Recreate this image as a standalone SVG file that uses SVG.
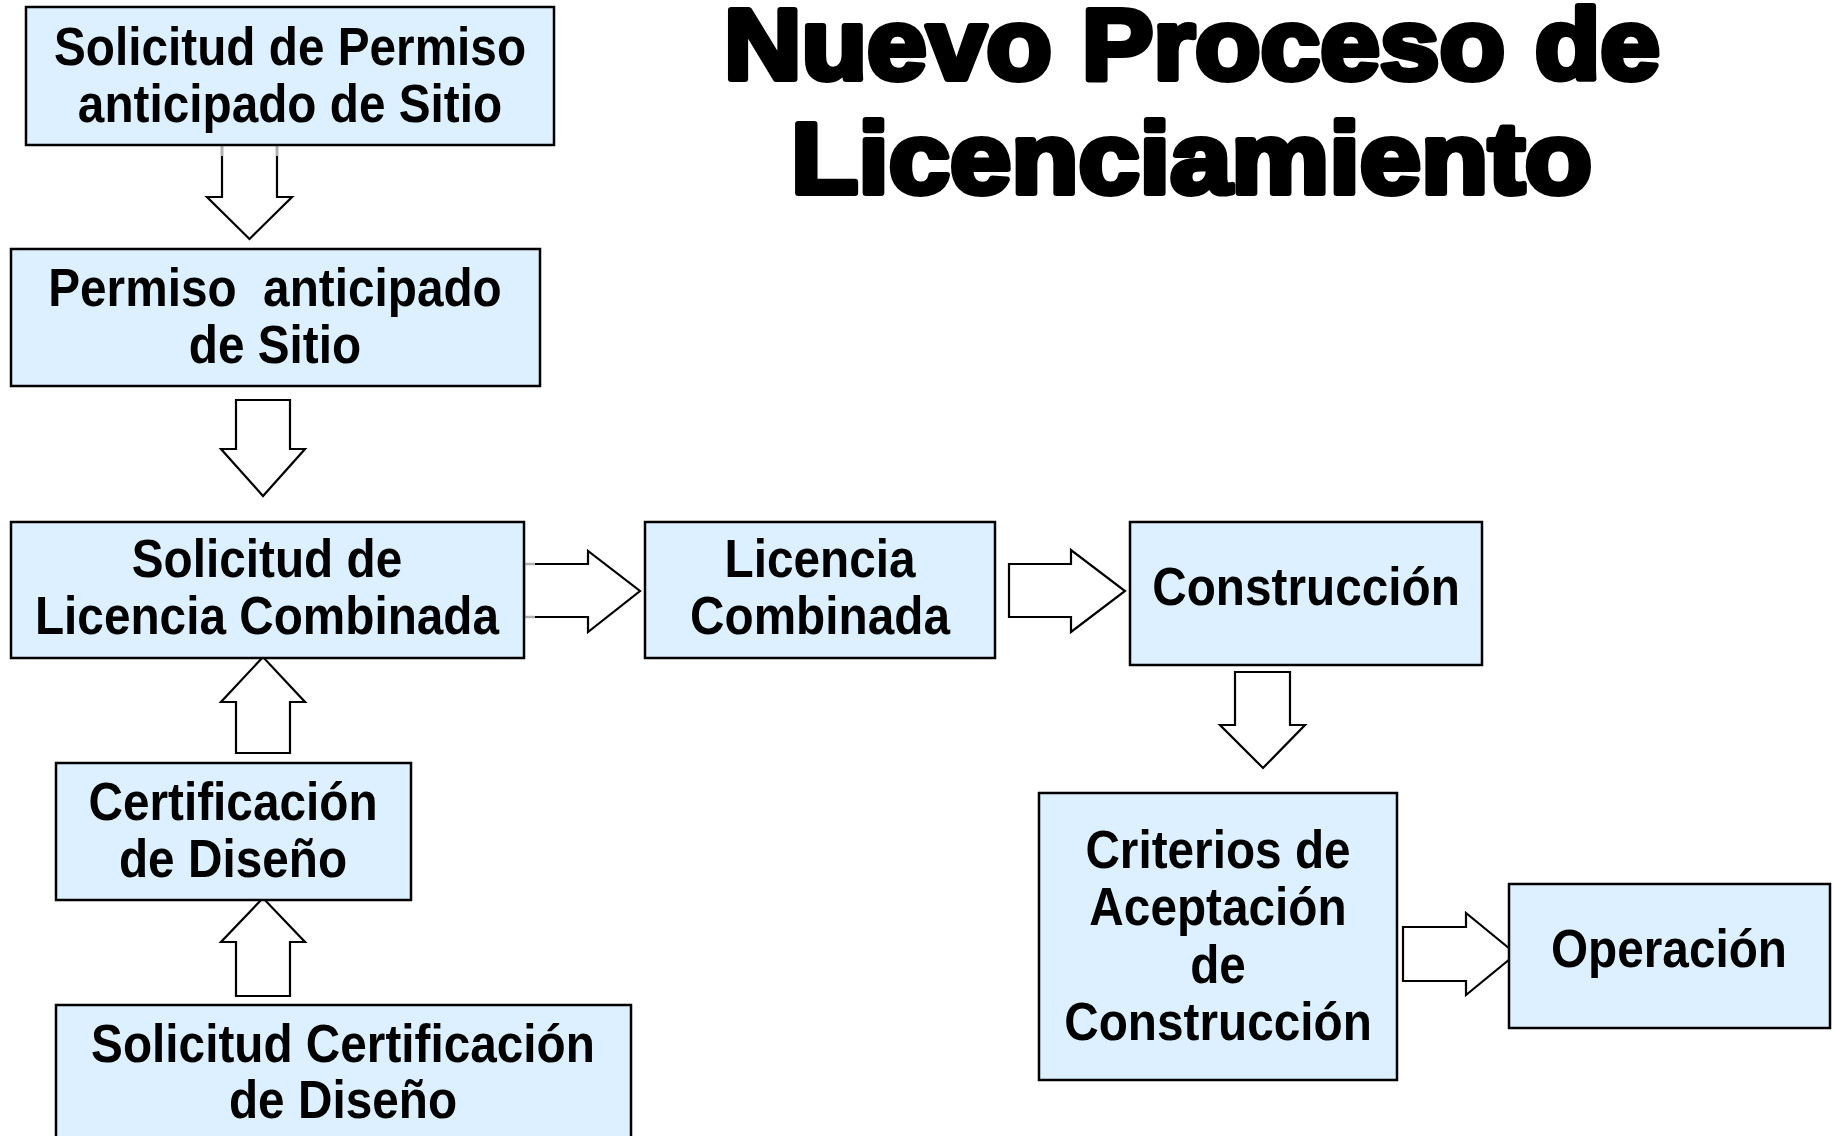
<svg xmlns="http://www.w3.org/2000/svg" width="1834" height="1136" viewBox="0 0 1834 1136">
<style>
.box{fill:#dcf0ff;stroke:#000;stroke-width:2.5}
.arr{fill:#fff;stroke:#000;stroke-width:2.2;stroke-linejoin:miter}
.gray{stroke:#b0b0b0;stroke-width:2.5;fill:none}
.t{font-family:"Liberation Sans",Arial,sans-serif;font-weight:bold;font-size:54px;text-anchor:middle;fill:#000}
.title{font-family:"Liberation Sans",Arial,sans-serif;font-weight:bold;font-size:100px;fill:#000;stroke:#000;stroke-width:6;stroke-linejoin:round}
</style>
<rect width="1834" height="1136" fill="#fff"/>
<g id="title">
<text class="title" x="724" y="79" textLength="936" lengthAdjust="spacingAndGlyphs">Nuevo Proceso de</text>
<text class="title" x="791" y="193" textLength="801" lengthAdjust="spacingAndGlyphs">Licenciamiento</text>
</g>
<g id="connectors">
<polygon class="arr" points="222,145 277,145 277,197 292,197 249.5,239 207,197 222,197"/>
<line class="gray" x1="222" y1="146" x2="222" y2="156"/><line class="gray" x1="277" y1="146" x2="277" y2="156"/>
<polygon class="arr" points="236,400 290,400 290,449 305,449 263,496 221,449 236,449"/>
<polygon class="arr" points="236,753 290,753 290,702 305,702 263,657 221,702 236,702"/>
<polygon class="arr" points="236,996 290,996 290,942 305,942 263,898 221,942 236,942"/>
<polygon class="arr" points="524,564 588,564 588,551 640,591 588,632 588,617 524,617"/>
<line class="gray" x1="525" y1="564" x2="535" y2="564"/><line class="gray" x1="525" y1="617" x2="535" y2="617"/>
<polygon class="arr" points="1009,564 1071,564 1071,550 1125,591 1071,632 1071,617 1009,617"/>
<polygon class="arr" points="1235,672 1290,672 1290,725 1305,725 1263,768 1220,725 1235,725"/>
<polygon class="arr" points="1403,927 1466,927 1466,913 1516,954 1466,995 1466,981 1403,981"/>
</g>
<g id="n1"><rect class="box" x="26" y="7" width="528" height="138"/>
<text class="t" transform="translate(290 0) scale(0.884 1)"><tspan x="0" y="65">Solicitud de Permiso</tspan><tspan x="0" y="122">anticipado de Sitio</tspan></text></g>
<g id="n2"><rect class="box" x="11" y="249" width="529" height="137"/>
<text class="t" transform="translate(275 0) scale(0.884 1)" xml:space="preserve"><tspan x="0" y="306">Permiso  anticipado</tspan><tspan x="0" y="363">de Sitio</tspan></text></g>
<g id="n3"><rect class="box" x="11" y="522" width="513" height="136"/>
<text class="t" transform="translate(267 0) scale(0.884 1)"><tspan x="0" y="577">Solicitud de</tspan><tspan x="0" y="634">Licencia Combinada</tspan></text></g>
<g id="n4"><rect class="box" x="56" y="763" width="355" height="137"/>
<text class="t" transform="translate(233 0) scale(0.884 1)"><tspan x="0" y="820">Certificación</tspan><tspan x="0" y="877">de Diseño</tspan></text></g>
<g id="n5"><rect class="box" x="56" y="1005" width="575" height="140"/>
<text class="t" transform="translate(343 0) scale(0.884 1)"><tspan x="0" y="1062">Solicitud Certificación</tspan><tspan x="0" y="1118">de Diseño</tspan></text></g>
<g id="n6"><rect class="box" x="645" y="522" width="350" height="136"/>
<text class="t" transform="translate(820 0) scale(0.884 1)"><tspan x="0" y="577">Licencia</tspan><tspan x="0" y="634">Combinada</tspan></text></g>
<g id="n7"><rect class="box" x="1130" y="522" width="352" height="143"/>
<text class="t" transform="translate(1306 0) scale(0.884 1)"><tspan x="0" y="605">Construcción</tspan></text></g>
<g id="n8"><rect class="box" x="1039" y="793" width="358" height="287"/>
<text class="t" transform="translate(1218 0) scale(0.884 1)"><tspan x="0" y="868">Criterios de</tspan><tspan x="0" y="925">Aceptación</tspan><tspan x="0" y="983">de</tspan><tspan x="0" y="1040">Construcción</tspan></text></g>
<g id="n9"><rect class="box" x="1509" y="884" width="321" height="144"/>
<text class="t" transform="translate(1669 0) scale(0.884 1)"><tspan x="0" y="967">Operación</tspan></text></g>
</svg>
